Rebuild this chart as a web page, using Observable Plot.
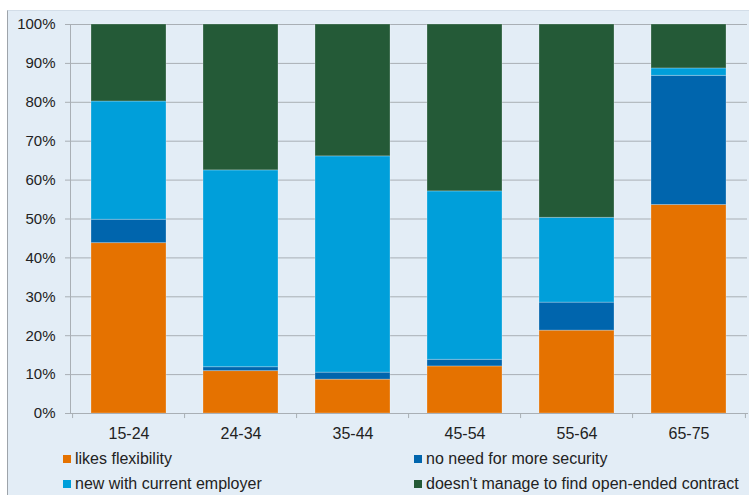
<!DOCTYPE html>
<html>
<head>
<meta charset="utf-8">
<script src="https://cdn.jsdelivr.net/npm/d3@7"></script>
<script src="https://cdn.jsdelivr.net/npm/@observablehq/plot@0.6"></script>
<style>
  html, body { margin: 0; padding: 0; background: #fff; width: 749px; height: 495px; overflow: hidden; }
  #bg { position: absolute; left: 7px; top: 10px; width: 742px; height: 485px; background: #e3edf6;
        border-left: 1px solid #9ea4aa; border-top: 1px solid #d2dde8; box-sizing: border-box; }
  #chart { position: absolute; left: 0; top: 0; }
  .leg { position: absolute; font: 16px "Liberation Sans", Arial, sans-serif; color: #222; white-space: nowrap; line-height: 20px; }
  .sw { display: inline-block; width: 8px; height: 8px; margin-right: 4px; vertical-align: 1px; }
</style>
</head>
<body>
<div id="bg"></div>
<div id="chart"></div>
<div id="legend"></div>
<script>
const categories = ["15-24", "24-34", "35-44", "45-54", "55-64", "65-75"];
const seriesNames = ["likes flexibility", "no need for more security", "new with current employer", "doesn't manage to find open-ended contract"];
const likesFlexibility = [43.8, 10.9, 8.7, 12.1, 21.3, 53.6];
const noNeedSecurity   = [6.0, 1.0, 1.8, 1.7, 7.2, 33.2];
const newWithEmployer  = [30.4, 50.6, 55.6, 43.3, 21.8, 1.9];
const noOpenEnded      = [19.8, 37.5, 33.9, 42.9, 49.7, 11.3];
const seriesColors = ["#e57200", "#0065ad", "#009fda", "#245a37"];
const yTicks = [0, 10, 20, 30, 40, 50, 60, 70, 80, 90, 100];

const seriesValues = [likesFlexibility, noNeedSecurity, newWithEmployer, noOpenEnded];
const rows = [];
seriesNames.forEach((s, si) => categories.forEach((c, ci) => rows.push({age: c, reason: s, value: seriesValues[si][ci]})));

const W = 749, H = 450, ML = 70, MR = 2, MT = 24, MB = 37;
const step = (W - ML - MR) / categories.length;
const grey = "#a9afb5";

const chart = Plot.plot({
  width: W, height: H,
  marginLeft: ML, marginRight: MR, marginTop: MT, marginBottom: MB,
  style: {background: "transparent", fontFamily: "'Liberation Sans', Arial, sans-serif", color: "#222"},
  x: {domain: categories, paddingInner: 0.334, paddingOuter: 0.167, label: null},
  y: {domain: [0, 100], label: null},
  color: {domain: seriesNames, range: seriesColors},
  marks: [
    Plot.gridY(yTicks, {stroke: grey, strokeOpacity: 1, strokeWidth: 1}),
    Plot.axisY(yTicks, {tickSize: 5, tickPadding: 10, tickFormat: d => d + "%", fontSize: 15, stroke: grey, fill: "#222", label: null}),
    Plot.barY(rows, {x: "age", y: "value", fill: "reason", stroke: "#ffffff", strokeOpacity: 0.25, strokeWidth: 1}),
    Plot.frame({anchor: "left", stroke: grey}),
    Plot.frame({anchor: "bottom", stroke: grey}),
    Plot.ruleX(categories, {x: d => d, y1: 0, y2: -1.3, dx: -step / 2, stroke: grey}),
    Plot.ruleX(categories.slice(-1), {x: d => d, y1: 0, y2: -1.3, dx: step / 2, stroke: grey}),
    Plot.axisX({tickSize: 0, tickPadding: 14, fontSize: 16, fill: "#222", label: null})
  ]
});
document.getElementById("chart").appendChild(chart);

const legendPos = [[63, 449], [414, 449], [63, 474], [414, 474]];
const legend = document.getElementById("legend");
seriesNames.forEach((s, i) => {
  const d = document.createElement("div");
  d.className = "leg";
  d.style.left = legendPos[i][0] + "px";
  d.style.top = legendPos[i][1] + "px";
  d.innerHTML = `<span class="sw" style="background:${seriesColors[i]}"></span>${s}`;
  legend.appendChild(d);
});
</script>
</body>
</html>
